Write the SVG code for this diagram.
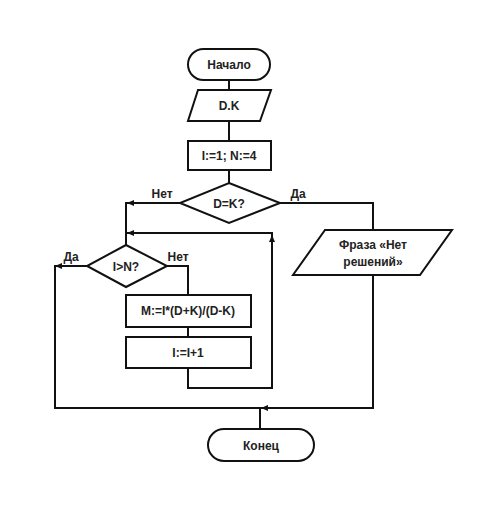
<svg xmlns="http://www.w3.org/2000/svg" width="500" height="521" viewBox="0 0 500 521">
<style>
.s{fill:#fff;stroke:#111;stroke-width:2}
.c{fill:none;stroke:#111;stroke-width:2}
text{font-family:"Liberation Sans",Arial,sans-serif;font-weight:bold;font-size:12px;fill:#222;text-anchor:middle}
.l{text-anchor:start}
</style>
<defs>
<marker id="a" markerWidth="8" markerHeight="8" refX="6" refY="4" orient="auto" markerUnits="userSpaceOnUse">
<path d="M0,1 L7,4 L0,7 Z" fill="#111"/>
</marker>
</defs>
<rect width="500" height="521" fill="#fff"/>
<g id="connectors">
<line class="c" x1="229" y1="80" x2="229" y2="90"/>
<line class="c" x1="229" y1="121" x2="229" y2="141"/>
<line class="c" x1="229" y1="170" x2="229" y2="183"/>
<polyline class="c" points="180,203 126,203 126,245" />
<line class="c" x1="180" y1="203" x2="128" y2="203" marker-end="url(#a)"/>
<polyline class="c" points="280,203 373,203 373,230"/>
<polyline class="c" points="167,266 188,266 188,295"/>
<line class="c" x1="188" y1="327" x2="188" y2="337"/>
<polyline class="c" points="188,368 188,388 272,388 272,233 126,233"/>
<line class="c" x1="272" y1="260" x2="272" y2="236" marker-end="url(#a)"/>
<line class="c" x1="200" y1="233" x2="128" y2="233" marker-end="url(#a)"/>
<polyline class="c" points="87,266 55,266 55,408 260,408"/>
<line class="c" x1="80" y1="266" x2="56" y2="266" marker-end="url(#a)"/>
<polyline class="c" points="373,275 373,408 260,408 260,429"/>
<line class="c" x1="300" y1="408" x2="262" y2="408" marker-end="url(#a)"/>
</g>
<g id="start">
<rect class="s" x="188" y="49" width="82" height="31" rx="15.5"/>
<text x="229" y="69">Начало</text>
</g>
<g id="input">
<polygon class="s" points="198,90 271,90 260,121 188,121"/>
<text x="229" y="110">D.K</text>
</g>
<g id="init">
<rect class="s" x="188" y="141" width="83" height="29"/>
<text x="229" y="160">I:=1; N:=4</text>
</g>
<g id="cond1">
<polygon class="s" points="229,183 280,203 229,223 180,203"/>
<text x="229" y="208">D=K?</text>
<text x="162" y="198">Нет</text>
<text x="298" y="198">Да</text>
</g>
<g id="output">
<polygon class="s" points="325,230 452,230 420,275 293,275"/>
<text x="373" y="249">Фраза «Нет</text>
<text x="373" y="266">решений»</text>
</g>
<g id="cond2">
<polygon class="s" points="126,245 167,266 126,287 87,266"/>
<text x="126" y="271">I&gt;N?</text>
<text x="71" y="261">Да</text>
<text x="178" y="261">Нет</text>
</g>
<g id="calc">
<rect class="s" x="126" y="295" width="125" height="32"/>
<text x="188" y="315">M:=I*(D+K)/(D-K)</text>
</g>
<g id="inc">
<rect class="s" x="126" y="337" width="125" height="31"/>
<text x="188" y="357">I:=I+1</text>
</g>
<g id="end">
<rect class="s" x="208" y="429" width="106" height="32" rx="16"/>
<text x="261" y="450">Конец</text>
</g>
</svg>
